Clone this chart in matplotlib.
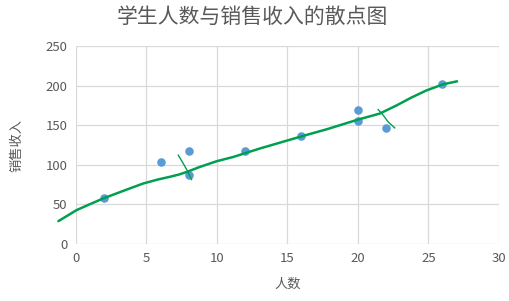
import matplotlib
matplotlib.use("Agg")
import matplotlib.pyplot as plt

plt.rcParams['font.family'] = ['Noto Sans CJK SC', 'DejaVu Sans']

# scatter data
students = [2, 6, 8, 8, 12, 16, 20, 20, 22, 26]
sales = [58, 104, 117, 87, 117, 136, 169, 156, 147, 202]

# hand drawn green trend line
trend_x = [-1.25, -0.6, 0.05, 1.0, 1.93, 3.4, 4.77, 5.8, 6.67, 7.3, 7.85, 8.8, 9.98, 11.16, 13.05,
           16.0, 17.8, 19.98, 21.56, 22.74, 23.8, 24.87, 26.05, 27.04]
trend_y = [29, 36, 43, 50.5, 57.6, 67.5, 76.5, 81.5, 85, 87.8, 91, 97.5, 104.6, 110, 120.7,
           136, 145, 157, 164.8, 175, 185, 194, 201.7, 205.5]

# small strokes crossing the line
tick1_x = [7.26, 7.61, 7.85, 8.2]
tick1_y = [112.2, 101.8, 94.2, 81.6]
tick2_x = [21.44, 21.8, 22.15, 22.62]
tick2_y = [169.8, 162.7, 154.2, 146.7]

grey = '#595959'
green = '#00a050'

fig = plt.figure(figsize=(5.1, 3.01), dpi=100)
ax = fig.add_axes([0.149, 0.189, 0.829, 0.658])

ax.scatter(students, sales, s=38, color='#5b9bd5', zorder=3, linewidths=0)
ax.plot(trend_x, trend_y, color=green, lw=1.8, clip_on=False, zorder=4,
        solid_joinstyle='round', solid_capstyle='round')
ax.plot(tick1_x, tick1_y, color=green, lw=1.0, zorder=4)
ax.plot(tick2_x, tick2_y, color=green, lw=1.0, zorder=4)

ax.set_xlim(0, 30)
ax.set_ylim(0, 250)
ax.set_xticks(range(0, 31, 5))
ax.set_yticks(range(0, 251, 50))
ax.grid(True, color='#d9d9d9', lw=0.9)
ax.set_axisbelow(True)
for s in ax.spines.values():
    s.set_visible(False)
ax.tick_params(length=0, labelsize=9.5, labelcolor=grey, pad=6)

fig.text(0.495, 0.945, '学生人数与销售收入的散点图', fontsize=15, color=grey,
         ha='center', va='center')
ax.set_xlabel('人数', fontsize=9.5, color=grey, labelpad=9)
ax.set_ylabel('销售收入', fontsize=9.5, color=grey, labelpad=16)

fig.savefig('out.png', dpi=100)
